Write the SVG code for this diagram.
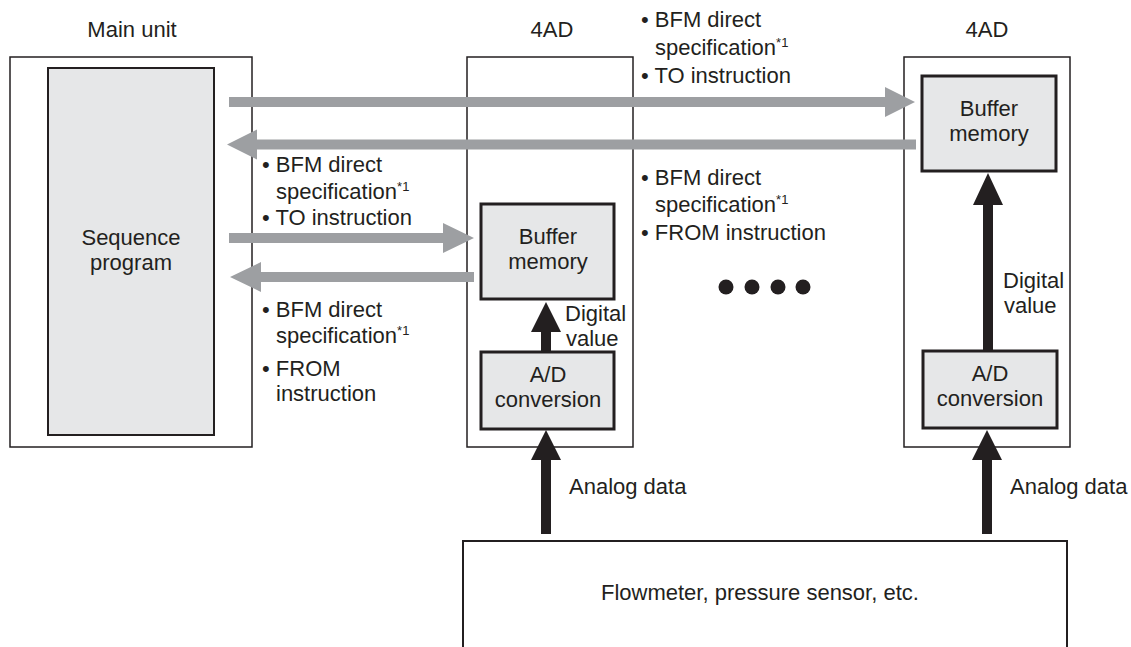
<svg xmlns="http://www.w3.org/2000/svg" width="1131" height="647" viewBox="0 0 1131 647">
<style>
text{font-family:"Liberation Sans",Arial,Helvetica,sans-serif;font-size:22px;fill:#231f20}
.mid{text-anchor:middle}
.outer{fill:#fff;stroke:#231f20;stroke-width:1.5}
.inner{fill:#e6e7e8;stroke:#231f20;stroke-width:3}
.seq{fill:#e6e7e8;stroke:#231f20;stroke-width:2}
.gray{fill:#9d9fa2}
.blk{fill:#231f20}
.sup{font-size:13px}
</style>
<rect width="1131" height="647" fill="#fff"/>
<g id="main-unit">
<text class="mid" x="132" y="37">Main unit</text>
<rect class="outer" x="10" y="57" width="242" height="390"/>
</g>
<g id="sequence-program">
<rect class="seq" x="48" y="68" width="166" height="367"/>
<text class="mid" x="131" y="245">Sequence</text>
<text class="mid" x="131" y="270">program</text>
</g>
<g id="4ad-1">
<text class="mid" x="552" y="37">4AD</text>
<rect class="outer" x="467" y="57" width="166" height="390"/>
</g>
<g id="buffer-1">
<rect class="inner" x="481" y="204" width="133" height="95"/>
<text class="mid" x="548" y="244">Buffer</text>
<text class="mid" x="548" y="269">memory</text>
</g>
<g id="ad-1">
<rect class="inner" x="481" y="352" width="133" height="77"/>
<text class="mid" x="548" y="382">A/D</text>
<text class="mid" x="548" y="407">conversion</text>
</g>
<g id="4ad-2">
<text class="mid" x="987" y="37">4AD</text>
<rect class="outer" x="904" y="57" width="166" height="390"/>
</g>
<g id="buffer-2">
<rect class="inner" x="922" y="76" width="134" height="95"/>
<text class="mid" x="989" y="116">Buffer</text>
<text class="mid" x="989" y="141">memory</text>
</g>
<g id="ad-2">
<rect class="inner" x="923" y="351" width="134" height="77"/>
<text class="mid" x="990" y="381">A/D</text>
<text class="mid" x="990" y="406">conversion</text>
</g>
<g id="sensor">
<path d="M463,647 V541 H1067 V647" fill="#fff" stroke="#231f20" stroke-width="2"/>
<text x="601" y="600">Flowmeter, pressure sensor, etc.</text>
</g>
<g id="dots">
<circle class="blk" cx="726" cy="287" r="7.5"/>
<circle class="blk" cx="752" cy="287" r="7.5"/>
<circle class="blk" cx="778" cy="287" r="7.5"/>
<circle class="blk" cx="803" cy="287" r="7.5"/>
</g>
<g id="connectors">
<polygon class="gray" points="229,97 885,97 885,87 915,102 885,117 885,107 229,107"/>
<polygon class="gray" points="916,139.5 257,139.5 257,129.5 227,144.5 257,159.5 257,149.5 916,149.5"/>
<polygon class="gray" points="229,233 443,233 443,223 474,238 443,253 443,243 229,243"/>
<polygon class="gray" points="474,272 261,272 261,262 230,277 261,292 261,282 474,282"/>
<polygon class="blk" points="541,352 541,332 531,332 546,302 561,332 551,332 551,352"/>
<polygon class="blk" points="983,351 983,205 973,205 988,173 1003,205 993,205 993,351"/>
<polygon class="blk" points="541,534 541,460 531,460 546,430 561,460 551,460 551,534"/>
<polygon class="blk" points="982,534 982,460 972,460 987,430 1002,460 992,460 992,534"/>
</g>
<g id="labels">
<text x="641" y="27">• BFM direct</text>
<text x="655" y="55">specification<tspan class="sup" dy="-8">*1</tspan></text>
<text x="641" y="83">• TO instruction</text>
<text x="262" y="172">• BFM direct</text>
<text x="276" y="199">specification<tspan class="sup" dy="-8">*1</tspan></text>
<text x="262" y="225">• TO instruction</text>
<text x="641" y="185">• BFM direct</text>
<text x="655" y="212">specification<tspan class="sup" dy="-8">*1</tspan></text>
<text x="641" y="240">• FROM instruction</text>
<text x="262" y="317">• BFM direct</text>
<text x="276" y="343">specification<tspan class="sup" dy="-8">*1</tspan></text>
<text x="262" y="376">• FROM</text>
<text x="276" y="401">instruction</text>
<text x="565" y="321">Digital</text>
<text x="566" y="346">value</text>
<text x="1003" y="288">Digital</text>
<text x="1004" y="313">value</text>
<text x="569" y="494">Analog data</text>
<text x="1010" y="494">Analog data</text>
</g>
</svg>
